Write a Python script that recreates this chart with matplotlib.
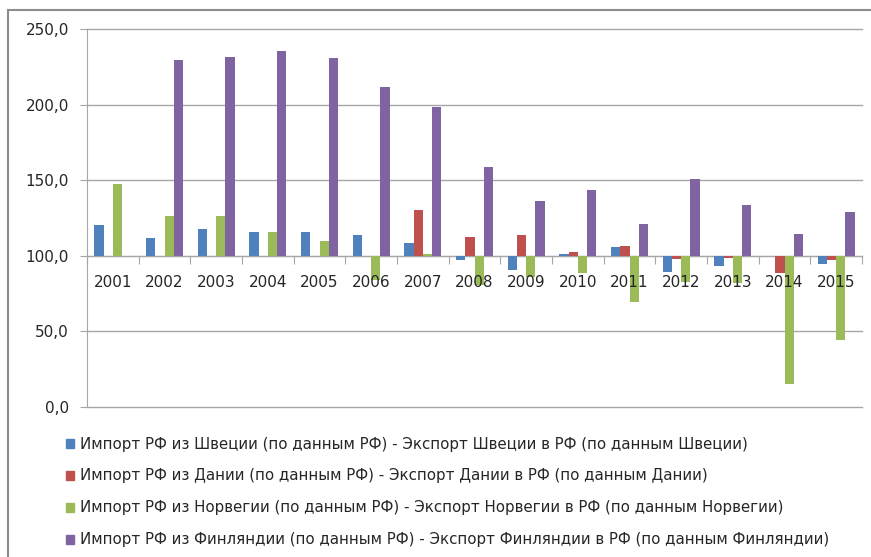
import numpy as np
import matplotlib.pyplot as plt
from matplotlib.patches import Patch, Rectangle

years = ["2001", "2002", "2003", "2004", "2005", "2006", "2007", "2008",
         "2009", "2010", "2011", "2012", "2013", "2014", "2015"]

# values (index, base = 100); None = no bar
sweden = [120.5, 112.1, 117.9, 115.5, 115.5, 113.7, 108.6, 97.1,
          90.3, 101.3, 105.7, 89.0, 93.2, None, 94.3]
denmark = [None, None, None, None, None, None, 130.0, 112.6,
           113.7, 102.6, 106.8, 97.6, 98.7, 88.5, 96.9]
norway = [147.7, 126.0, 126.0, 115.5, 109.7, 84.0, 101.3, 81.0,
          86.0, 88.5, 69.3, 83.0, 82.0, 15.2, 44.6]
finland = [None, 229.6, 231.4, 235.2, 230.7, 211.5, 198.5, 159.0,
           136.4, 143.7, 121.2, 150.6, 133.6, 114.4, 128.9]

labels = [
    "Импорт РФ из Швеции (по данным РФ) - Экспорт Швеции в РФ (по данным Швеции)",
    "Импорт РФ из Дании (по данным РФ) - Экспорт Дании в РФ (по данным Дании)",
    "Импорт РФ из Норвегии (по данным РФ) - Экспорт Норвегии в РФ (по данным Норвегии)",
    "Импорт РФ из Финляндии (по данным РФ) - Экспорт Финляндии в РФ (по данным Финляндии)",
]
colors = ["#4F81BD", "#C0504D", "#9BBB59", "#8064A2"]
series = [sweden, denmark, norway, finland]

BASE = 100
W, H = 871, 557
TXT = "#262626"

fig = plt.figure(figsize=(W / 100, H / 100), dpi=100)
ax = fig.add_axes([87 / W, 1 - 407 / H, (862 - 87) / W, (407 - 29) / H])

x = np.arange(len(years))
bw = 0.18
for i, (vals, c) in enumerate(zip(series, colors)):
    v = np.array([np.nan if s is None else s for s in vals], dtype=float)
    ax.bar(x + (i - 1.5) * bw, v - BASE, bottom=BASE, width=bw, color=c, zorder=3)

ax.set_xlim(-0.5, len(years) - 0.5)
ax.set_ylim(0, 250)
ax.set_yticks(np.arange(0, 251, 50))
ax.set_yticklabels([f"{t:.1f}".replace(".", ",") for t in np.arange(0, 251, 50)])
ax.grid(axis="y", color="#a6a6a6", lw=1, zorder=0)
for gl in ax.get_ygridlines():
    gl.set_clip_on(False)

# category axis crossing at 100
ax.spines["bottom"].set_position(("data", BASE))
ax.spines["bottom"].set_color("#a6a6a6")
ax.spines["left"].set_color("#a6a6a6")
ax.spines["top"].set_visible(False)
ax.spines["right"].set_visible(False)
ax.set_xticks(np.arange(-0.5, len(years), 1))
ax.set_xticklabels([])
ax.tick_params(axis="x", length=6, color="#a6a6a6", direction="out")
ax.tick_params(axis="y", length=5, color="#a6a6a6", pad=8, labelsize=11, labelcolor=TXT)

# year labels sit over the bars, like in Excel
for xi, yr in zip(x, years):
    ax.annotate(yr, (xi, BASE), xytext=(0, -19.5), textcoords="offset points",
                ha="center", va="center", fontsize=11, color=TXT, zorder=5)

handles = [Patch(color=c) for c in colors]
fig.legend(handles, labels, loc="upper left", bbox_to_anchor=(52 / W, 1 - 423 / H),
           frameon=False, fontsize=10.8, handlelength=0.55, handleheight=0.55,
           handletextpad=0.45, labelspacing=1.13, labelcolor=TXT)

# outer chart frame
fig.patches.append(Rectangle((8 / W, -0.1), 1.2, 1 - 10 / H + 0.1, transform=fig.transFigure,
                             fill=False, edgecolor="#8c8c8c", lw=1.5))

fig.savefig("out.png", dpi=100)
